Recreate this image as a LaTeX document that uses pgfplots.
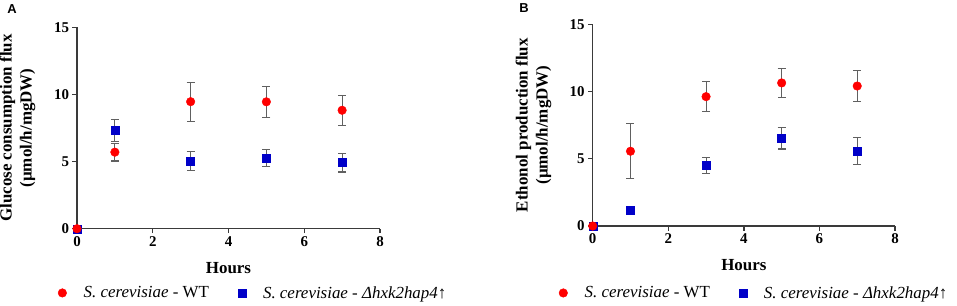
\documentclass[border=0pt]{standalone}
\usepackage{fontspec}
\setmainfont{Liberation Serif}
\newfontfamily\sansf{Liberation Sans}
\usepackage{pgfplots}
\pgfplotsset{compat=1.18}
\definecolor{wtred}{HTML}{FF0000}
\definecolor{mutblue}{HTML}{0000C8}
\definecolor{axgray}{HTML}{3A3A3A}
\definecolor{errgray}{HTML}{606060}
\pgfplotsset{
 panel/.style={
  scale only axis,
  xmin=0,xmax=8,ymin=0,ymax=15,
  xtick={0,2,4,6,8}, ytick={0,5,10,15},
  xticklabels={0,2,4,6,8}, yticklabels={0,5,10,15},
  axis lines=left, axis line style={-, axgray, line width=1.3bp},
  tick align=outside, major tick length=4.5bp, tick style={axgray, line width=1.3bp},
  tick label style={font=\fontsize{15}{15}\selectfont\bfseries},
  label style={font=\fontsize{17}{20}\selectfont\bfseries},
  xlabel={Hours},
  xlabel style={at={(axis description cs:0.5,-0.195)}, anchor=center},
  ylabel style={at={(axis description cs:-0.196,0.5)}, anchor=center, align=center},
  clip=false,
  legend columns=2,
  legend cell align=left,
  reverse legend,
 },
 leg/.style={legend style={draw=none, fill=none, font=\fontsize{17}{17}\selectfont, at={#1}, anchor=west,
   /tikz/every odd column/.append style={column sep=15bp},
   /tikz/every even column/.append style={column sep=27bp}}},
 errs/.style={error bars/.cd, y dir=both, y explicit, error bar style={errgray, line width=1.1bp}, error mark options={rotate=90, errgray, mark size=4bp, line width=1.1bp}},
 wt/.style={only marks, mark=*, mark size=4.3bp, color=wtred, mark options={fill=wtred, draw=wtred}},
 mut/.style={only marks, mark=square*, mark size=4bp, color=mutblue, mark options={fill=mutblue, draw=mutblue}},
}
\begin{document}
\begin{tikzpicture}
\path[use as bounding box] (0,0) rectangle (957bp,306bp);
\begin{axis}[panel, at={(77bp,77.3bp)}, anchor=south west, width=303bp, height=201.4bp,
  ylabel={Glucose consumption flux\\(µmol/h/mgDW)},
  leg={(axis description cs:-0.073,-0.319)}]
\addplot+[mut, errs] coordinates {(0,0) +- (0,0) (1,7.31) +- (0,0.83) (3,5.05) +- (0,0.69) (5,5.26) +- (0,0.63) (7,4.92) +- (0,0.70)};
\addlegendentry{\textit{S. cerevisiae} - \textit{Δhxk2hap4}↑}
\addplot+[wt, errs] coordinates {(0,0) +- (0,0) (1,5.70) +- (0,0.66) (3,9.46) +- (0,1.46) (5,9.45) +- (0,1.17) (7,8.82) +- (0,1.12)};
\addlegendentry{\textit{S. cerevisiae} - WT}
\end{axis}
\begin{axis}[panel, at={(592.7bp,80bp)}, anchor=south west, width=302.3bp, height=201.7bp,
  ylabel={Ethonol production flux\\(µmol/h/mgDW)},
  leg={(axis description cs:-0.122,-0.332)}]
\addplot+[mut, errs] coordinates {(0,0) +- (0,0) (1,1.21) +- (0,0.10) (3,4.49) +- (0,0.58) (5,6.52) +- (0,0.79) (7,5.58) +- (0,0.99)};
\addlegendentry{\textit{S. cerevisiae} - \textit{Δhxk2hap4}↑}
\addplot+[wt, errs] coordinates {(0,0) +- (0,0) (1,5.56) +- (0,2.03) (3,9.62) +- (0,1.13) (5,10.64) +- (0,1.07) (7,10.41) +- (0,1.18)};
\addlegendentry{\textit{S. cerevisiae} - WT}
\end{axis}
\node[font=\sansf\bfseries\fontsize{13}{13}\selectfont] at (12bp,297bp) {A};
\node[font=\sansf\bfseries\fontsize{13}{13}\selectfont] at (524bp,298bp) {B};
\end{tikzpicture}
\end{document}
